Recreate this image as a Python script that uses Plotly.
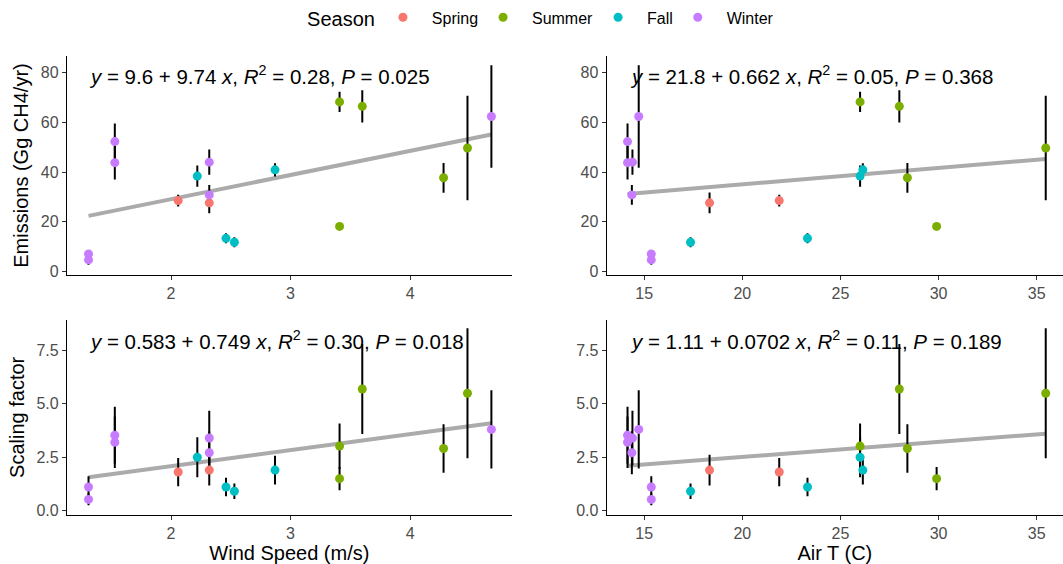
import plotly.graph_objects as go

# Monthly methane observations: season, drivers, emissions and scaling factors (mean, sd)
season = ["Winter"] * 7 + ["Spring"] * 2 + ["Fall"] * 4 + ["Summer"] * 5
wind_speed = [1.31, 1.31, 1.53, 1.53, 2.32, 2.32, 4.68,
              2.06, 2.32,
              2.22, 2.46, 2.53, 2.87,
              3.41, 3.41, 3.60, 4.28, 4.48]
air_t = [15.36, 15.36, 14.15, 14.15, 14.40, 14.37, 14.72,
         21.88, 18.33,
         26.00, 23.32, 17.36, 26.14,
         26.00, 29.90, 28.00, 28.41, 35.46]
emissions = [7.0, 4.6, 52.3, 43.8, 44.0, 30.8, 62.4,
             28.5, 27.6,
             38.4, 13.3, 11.7, 40.9,
             68.3, 18.1, 66.5, 37.7, 49.7]
emissions_sd = [1.6, 2.0, 7.3, 6.8, 5.1, 4.0, 20.7,
                2.4, 4.2,
                4.3, 2.0, 2.0, 2.7,
                4.1, 1.0, 6.5, 6.0, 21.1]
scaling = [1.11, 0.53, 3.53, 3.20, 3.40, 2.71, 3.80,
           1.81, 1.90,
           2.50, 1.11, 0.91, 1.90,
           3.02, 1.50, 5.69, 2.91, 5.49]
scaling_sd = [0.50, 0.27, 1.33, 1.20, 1.27, 1.00, 1.83,
              0.66, 0.72,
              0.93, 0.43, 0.36, 0.67,
              1.06, 0.54, 2.10, 1.13, 3.04]

season_order = ["Spring", "Summer", "Fall", "Winter"]
season_colors = ["#F8766D", "#7CAE00", "#00BFC4", "#C77CFF"]

# Linear fits per panel: intercept, slope, R², P (panel order: TL, TR, BL, BR)
fit_intercept = ["9.6", "21.8", "0.583", "1.11"]
fit_slope = ["9.74", "0.662", "0.749", "0.0702"]
fit_r2 = ["0.28", "0.05", "0.30", "0.11"]
fit_p = ["0.025", "0.368", "0.018", "0.189"]

x_ticks_wind = [2, 3, 4]
x_ticks_air = [15, 20, 25, 30, 35]
y_ticks_emis = [0, 20, 40, 60, 80]
y_ticks_scale = [0, 2.5, 5.0, 7.5]

FONT = "Liberation Sans, Arial, Helvetica, sans-serif"

panels = [
    # (x data, y data, y sd, axis suffix)
    (wind_speed, emissions, emissions_sd, ""),
    (air_t, emissions, emissions_sd, "2"),
    (wind_speed, scaling, scaling_sd, "3"),
    (air_t, scaling, scaling_sd, "4"),
]

fig = go.Figure()

for k, (xs, ys, sds, sfx) in enumerate(panels):
    xa, ya = "x" + sfx, "y" + sfx
    a = float(fit_intercept[k])
    b = float(fit_slope[k])
    x_line = [min(xs), max(xs)]
    y_line = [a + b * v for v in x_line]
    # fitted line
    fig.add_trace(go.Scatter(
        x=x_line, y=y_line, mode="lines", xaxis=xa, yaxis=ya,
        line=dict(color="#ABABAB", width=4), showlegend=False, hoverinfo="skip"))
    # ±sd bars for all observations, kept beneath the points
    fig.add_trace(go.Scatter(
        x=xs, y=ys, mode="markers", xaxis=xa, yaxis=ya,
        marker=dict(size=1, color="rgba(0,0,0,0)"),
        error_y=dict(type="data", array=sds, color="black", thickness=2, width=0),
        showlegend=False, hoverinfo="skip"))
    for s, col in zip(season_order, season_colors):
        idx = [i for i, v in enumerate(season) if v == s]
        fig.add_trace(go.Scatter(
            x=[xs[i] for i in idx], y=[ys[i] for i in idx],
            mode="markers", name="&nbsp;&nbsp;" + s, legendgroup=s, showlegend=(k == 0),
            marker=dict(color=col, size=9),
            xaxis=xa, yaxis=ya))
    fig.add_annotation(
        xref=xa + " domain", yref=ya + " domain",
        x=0.046, y=0.912 if k < 2 else 0.896, xanchor="left", yanchor="middle",
        showarrow=False,
        text=(f"<i>y</i> = {fit_intercept[k]} + {fit_slope[k]} <i>x</i>, "
              f"<i>R</i><sup>2</sup> = {fit_r2[k]}, <i>P</i> = {fit_p[k]}"),
        font=dict(family=FONT, size=20.5, color="black"))

axis_common = dict(
    showline=True, linecolor="black", linewidth=1.3, mirror=False,
    ticks="outside", ticklen=4, tickwidth=1, tickcolor="#333333",
    showgrid=False, zeroline=False,
    tickfont=dict(family=FONT, size=16, color="#4D4D4D"),
    title_font=dict(family=FONT, size=20, color="black"),
)

left_dom = [0.0, 0.4465]
right_dom = [0.5419, 1.0]
top_dom = [0.5228, 1.0]
bot_dom = [0.0, 0.4255]
wind_range = [1.13, 4.85]
air_range = [13.09, 36.34]
emis_range = [-1.5, 86.8]
scale_range = [-0.2, 8.93]

fig.update_layout(
    xaxis=dict(domain=left_dom, anchor="y", range=wind_range, tickvals=x_ticks_wind, **axis_common),
    yaxis=dict(domain=top_dom, anchor="x", range=emis_range, tickvals=y_ticks_emis,
               title=dict(text="Emissions (Gg CH4/yr)", standoff=6), **axis_common),
    xaxis2=dict(domain=right_dom, anchor="y2", range=air_range, tickvals=x_ticks_air, **axis_common),
    yaxis2=dict(domain=top_dom, anchor="x2", range=emis_range, tickvals=y_ticks_emis, **axis_common),
    xaxis3=dict(domain=left_dom, anchor="y3", range=wind_range, tickvals=x_ticks_wind,
                title=dict(text="Wind Speed (m/s)", standoff=3), **axis_common),
    yaxis3=dict(domain=bot_dom, anchor="x3", range=scale_range, tickvals=y_ticks_scale,
                tickformat=".1f", title=dict(text="Scaling factor", standoff=6), **axis_common),
    xaxis4=dict(domain=right_dom, anchor="y4", range=air_range, tickvals=x_ticks_air,
                title=dict(text="Air T (C)", standoff=3), **axis_common),
    yaxis4=dict(domain=bot_dom, anchor="x4", range=scale_range, tickvals=y_ticks_scale,
                tickformat=".1f", **axis_common),
    legend=dict(
        orientation="h", x=0.477, xanchor="center", y=1.082, yanchor="middle",
        title=dict(text="Season", side="left", font=dict(family=FONT, size=20, color="black")),
        font=dict(family=FONT, size=16, color="black"),
        bgcolor="rgba(0,0,0,0)"),
    width=1063, height=564,
    margin=dict(l=67, r=0, t=53, b=49),
    plot_bgcolor="white", paper_bgcolor="white",
    font=dict(family=FONT),
)

fig.write_html("out.html")
